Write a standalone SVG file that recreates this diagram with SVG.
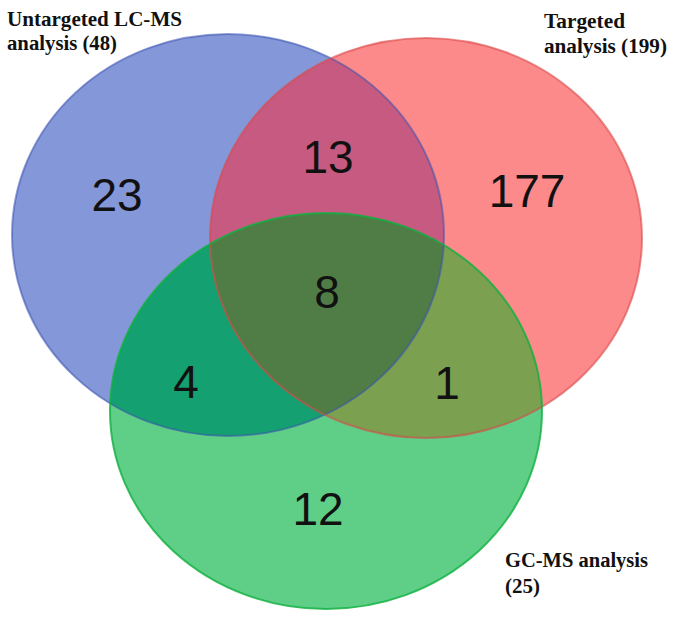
<svg xmlns="http://www.w3.org/2000/svg" width="673" height="621" viewBox="0 0 673 621">
<style>
.num{font-family:"Liberation Sans",Arial,sans-serif;font-size:46px;fill:#111;text-anchor:middle}
.lbl{font-family:"Liberation Serif","Times New Roman",serif;font-weight:bold;font-size:20px;fill:#111}
</style>
<defs>
<ellipse id="eB" cx="228" cy="235" rx="216" ry="201"/>
<ellipse id="eR" cx="426" cy="238" rx="216" ry="200"/>
<ellipse id="eG" cx="326" cy="411" rx="216" ry="198"/>
<clipPath id="cB"><use href="#eB"/></clipPath>
<clipPath id="cR"><use href="#eR"/></clipPath>
<clipPath id="cG"><use href="#eG"/></clipPath>
</defs>
<rect width="673" height="621" fill="#fff"/>
<g id="set-untargeted">
<use href="#eB" fill="#8497d8"/>
</g>
<g id="set-targeted">
<use href="#eR" fill="#fd8a8a"/>
</g>
<g id="set-gcms">
<use href="#eG" fill="#5fcf88"/>
</g>
<g id="overlaps">
<g clip-path="url(#cB)"><use href="#eR" fill="#c65a80"/></g>
<g clip-path="url(#cB)"><use href="#eG" fill="#14a070"/></g>
<g clip-path="url(#cR)"><use href="#eG" fill="#7aa050"/></g>
<g clip-path="url(#cB)"><g clip-path="url(#cR)"><use href="#eG" fill="#507d46"/></g></g>
</g>
<g id="outlines" fill="none" stroke-width="2">
<use href="#eB" stroke="#3a52b0" stroke-opacity="0.55"/>
<use href="#eR" stroke="#d84848" stroke-opacity="0.6"/>
<use href="#eG" stroke="#10b040" stroke-opacity="0.8"/>
</g>
<g id="counts">
<text class="num" x="117" y="211">23</text>
<text class="num" x="328" y="173">13</text>
<text class="num" x="527" y="207">177</text>
<text class="num" x="327" y="308">8</text>
<text class="num" x="186" y="398">4</text>
<text class="num" x="447" y="399">1</text>
<text class="num" x="318" y="525">12</text>
</g>
<g id="labels">
<text class="lbl" x="7" y="26" textLength="175" lengthAdjust="spacingAndGlyphs">Untargeted LC-MS</text>
<text class="lbl" x="7" y="50" textLength="110" lengthAdjust="spacingAndGlyphs">analysis (48)</text>
<text class="lbl" x="544" y="28" textLength="81" lengthAdjust="spacingAndGlyphs">Targeted</text>
<text class="lbl" x="544" y="53" textLength="123" lengthAdjust="spacingAndGlyphs">analysis (199)</text>
<text class="lbl" x="505" y="567" textLength="143" lengthAdjust="spacingAndGlyphs">GC-MS analysis</text>
<text class="lbl" x="505" y="593" textLength="35" lengthAdjust="spacingAndGlyphs">(25)</text>
</g>
</svg>
